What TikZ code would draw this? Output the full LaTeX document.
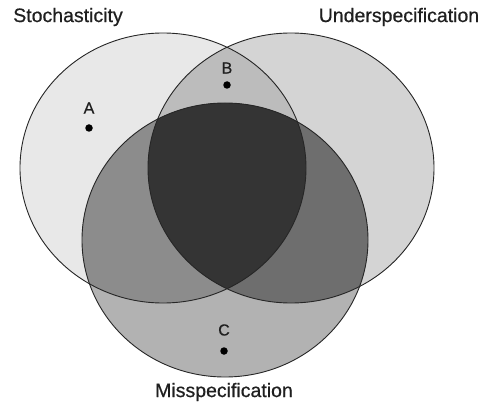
\documentclass[tikz,border=0pt]{standalone}
\usepackage{fontspec}
\setmainfont{Liberation Sans}
\newfontfamily\heavyfont{Liberation Sans}[FakeBold=0.6]
\begin{document}
\begin{tikzpicture}[x=1pt,y=-1pt,
  outline/.style={draw=black!85,line width=0.9pt},
  lbl/.style={font=\heavyfont\fontsize{19.5}{21}\selectfont,text=black!88,inner sep=0pt},
  ptlbl/.style={font=\heavyfont\fontsize{16}{17}\selectfont,text=black!88,inner sep=0pt},
  pt/.style={circle,fill=black,inner sep=0pt,minimum size=7.5pt},
]
\useasboundingbox (0,0) rectangle (490,409);
\def\Lshape{(163,168) ellipse [x radius=143,y radius=135]}
\def\Rshape{(291,168) ellipse [x radius=143,y radius=135]}
\def\Mshape{(225,240) ellipse [x radius=143,y radius=137]}
% base fills
\fill[color={rgb,255:red,232;green,232;blue,232}] \Lshape;
\fill[color={rgb,255:red,212;green,212;blue,212}] \Rshape;
\fill[color={rgb,255:red,178;green,178;blue,178}] \Mshape;
\begin{scope}
  \clip \Lshape;
  \fill[color={rgb,255:red,188;green,188;blue,188}] \Rshape;
  \fill[color={rgb,255:red,140;green,140;blue,140}] \Mshape;
\end{scope}
\begin{scope}
  \clip \Rshape;
  \fill[color={rgb,255:red,110;green,110;blue,110}] \Mshape;
\end{scope}
\begin{scope}
  \clip \Lshape;
  \clip \Rshape;
  \fill[color={rgb,255:red,52;green,52;blue,52}] \Mshape;
\end{scope}
% outlines
\draw[outline] \Lshape;
\draw[outline] \Rshape;
\draw[outline] \Mshape;
% labels
\node[lbl] (stoch) at (68,17) {Stochasticity};
\node[lbl] (under) at (399,17) {Underspecification};
\node[lbl] (miss) at (224,392) {Misspecification};
\node[ptlbl] (la) at (89,108) {A};
\node[pt] (da) at (89,128) {};
\node[ptlbl] (lb) at (227,68) {B};
\node[pt] (db) at (227,85) {};
\node[ptlbl] (lc) at (224,330) {C};
\node[pt] (dc) at (224,351) {};
\end{tikzpicture}
\end{document}
